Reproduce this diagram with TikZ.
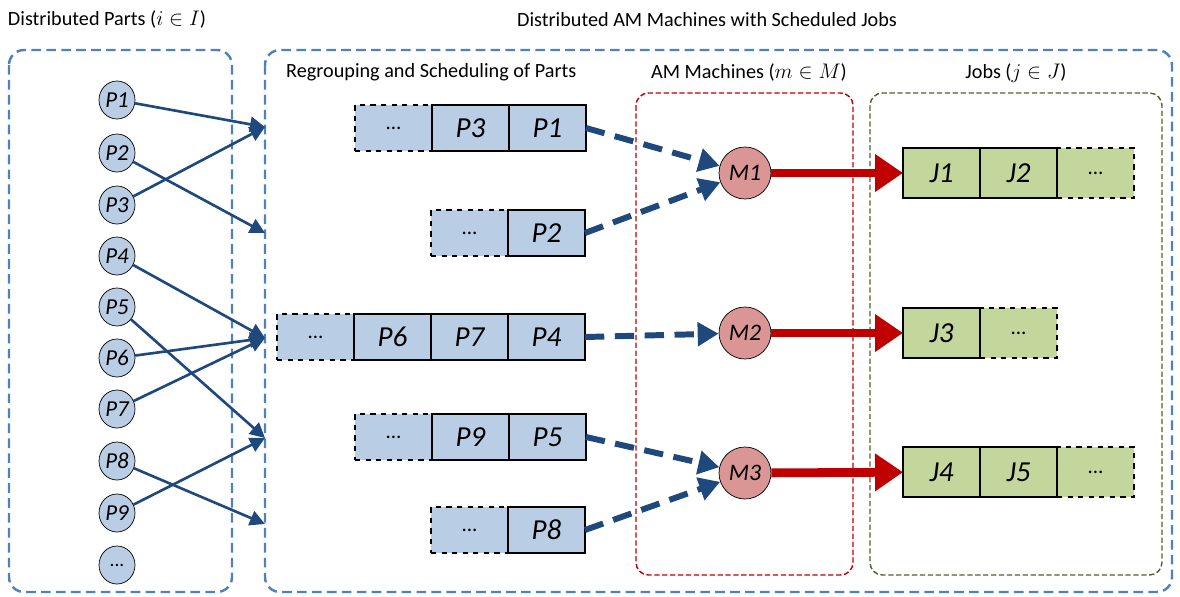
\documentclass[tikz,border=0pt]{standalone}
\usepackage{fontspec}
\setmainfont{Carlito}
\usetikzlibrary{positioning, arrows.meta, shapes.geometric}

\definecolor{partblue}{RGB}{185,205,229}
\definecolor{linkblue}{RGB}{31,73,125}
\definecolor{boxblue}{RGB}{79,129,189}
\definecolor{machred}{RGB}{217,150,148}
\definecolor{flowred}{RGB}{192,0,0}
\definecolor{jobgreen}{RGB}{195,214,155}
\definecolor{boxgreen}{RGB}{79,98,40}

\tikzstyle{heading} = [font=\fontsize{11.5}{13}\selectfont]
\tikzstyle{part} = [ellipse, draw=black, fill=partblue, minimum width=0.72cm, minimum height=0.76cm, inner sep=0pt, font=\fontsize{13}{15}\selectfont\itshape]
\tikzstyle{cell} = [rectangle, draw=black, line width=0.9pt, fill=partblue, minimum width=1.54cm, minimum height=0.92cm, outer sep=0pt, font=\fontsize{16.5}{18}\selectfont\itshape]
\tikzstyle{dotcell} = [cell, dashed, font=\fontsize{12}{14}\selectfont]
\tikzstyle{job} = [cell, fill=jobgreen, minimum height=1cm]
\tikzstyle{dotjob} = [job, dashed, font=\fontsize{12}{14}\selectfont]
\tikzstyle{machine} = [circle, draw=black, fill=machred, minimum size=1.04cm, inner sep=0pt, font=\fontsize{13.5}{15}\selectfont\itshape]
\tikzstyle{group} = [draw=boxblue, line width=1.4pt, dash pattern=on 5.5pt off 3pt, rounded corners=0.3cm]
\tikzstyle{stage} = [line width=0.8pt, dash pattern=on 3pt off 1.5pt, rounded corners=0.25cm]
\tikzstyle{link} = [draw=linkblue, line width=1.5pt, -{Triangle[length=0.3cm, width=0.3cm]}]
\tikzstyle{feed} = [draw=linkblue, line width=3.4pt, dash pattern=on 11pt off 6pt, -{Triangle[length=0.42cm, width=0.46cm]}]
\tikzstyle{assign} = [draw=flowred, line width=5pt, -{Triangle[length=0.56cm, width=0.72cm]}]

\begin{document}
\begin{tikzpicture}[x=0.02cm, y=-0.02cm, node distance=0pt]
    \useasboundingbox (0,0) rectangle (1180,596);

    \node[heading] (tparts) at (107,20) {Distributed Parts ($i \in I$)};
    \node[heading] (tmach) at (707,20) {Distributed AM Machines with Scheduled Jobs};
    \node[heading, anchor=west] (tgroup) at (280,72) {Regrouping and Scheduling of Parts};
    \node[heading] (tam) at (749,73) {AM Machines ($m \in M$)};
    \node[heading] (tjobs) at (1016,73) {Jobs ($j \in J$)};

    \draw[group] (9,50) rectangle (232,592);
    \draw[group] (265,50) rectangle (1172,592);
    \draw[stage, draw=flowred] (636,93) rectangle (853,575);
    \draw[stage, draw=boxgreen] (870,93) rectangle (1162,575);

    \node (p1) [part] at (117,100) {P1};
    \node (p2) [part] at (117,153) {P2};
    \node (p3) [part] at (117,205) {P3};
    \node (p4) [part] at (117,256) {P4};
    \node (p5) [part] at (117,307) {P5};
    \node (p6) [part] at (117,358) {P6};
    \node (p7) [part] at (117,409) {P7};
    \node (p8) [part] at (117,461) {P8};
    \node (p9) [part] at (117,513) {P9};
    \node (pn) [part, font=\fontsize{11}{13}\selectfont] at (117,565) {...};

    \coordinate (g1) at (265,127);
    \coordinate (g2) at (265,233);
    \coordinate (g3) at (265,338);
    \coordinate (g4) at (265,438);
    \coordinate (g5) at (265,524);

    \draw [link] (p1) -- (g1);
    \draw [link] (p3) -- (g1);
    \draw [link] (p2) -- (g2);
    \draw [link] (p4) -- (g3);
    \draw [link] (p6) -- (g3);
    \draw [link] (p7) -- (g3);
    \draw [link] (p5) -- (g4);
    \draw [link] (p9) -- (g4);
    \draw [link] (p8) -- (g5);

    \node (q1a) [dotcell, anchor=west] at (355,128) {...};
    \node (q1b) [cell, right=of q1a] {P3};
    \node (q1c) [cell, right=of q1b] {P1};

    \node (q2a) [dotcell, anchor=west] at (431,233) {...};
    \node (q2b) [cell, right=of q2a] {P2};

    \node (q3a) [dotcell, anchor=west] at (277,337) {...};
    \node (q3b) [cell, right=of q3a] {P6};
    \node (q3c) [cell, right=of q3b] {P7};
    \node (q3d) [cell, right=of q3c] {P4};

    \node (q4a) [dotcell, anchor=west] at (355,437) {...};
    \node (q4b) [cell, right=of q4a] {P9};
    \node (q4c) [cell, right=of q4b] {P5};

    \node (q5a) [dotcell, anchor=west] at (431,530) {...};
    \node (q5b) [cell, right=of q5a] {P8};

    \node (m1) [machine] at (745,173) {M1};
    \node (m2) [machine] at (745,333) {M2};
    \node (m3) [machine] at (745,473) {M3};

    \draw [feed] (q1c.east) -- (m1);
    \draw [feed] (q2b.east) -- (m1);
    \draw [feed] (q3d.east) -- (m2);
    \draw [feed] (q4c.east) -- (m3);
    \draw [feed] (q5b.east) -- (m3);

    \node (j1n) [dotjob, anchor=west] at (1057,173) {...};
    \node (j2) [job, left=of j1n] {J2};
    \node (j1) [job, left=of j2] {J1};

    \node (j2n) [dotjob, anchor=west] at (980,333) {...};
    \node (j3) [job, left=of j2n] {J3};

    \node (j3n) [dotjob, anchor=west] at (1057,472) {...};
    \node (j5) [job, left=of j3n] {J5};
    \node (j4) [job, left=of j5] {J4};

    \draw [assign] (m1) -- (j1);
    \draw [assign] (m2) -- (j3);
    \draw [assign] (m3) -- (j4);
\end{tikzpicture}
\end{document}
